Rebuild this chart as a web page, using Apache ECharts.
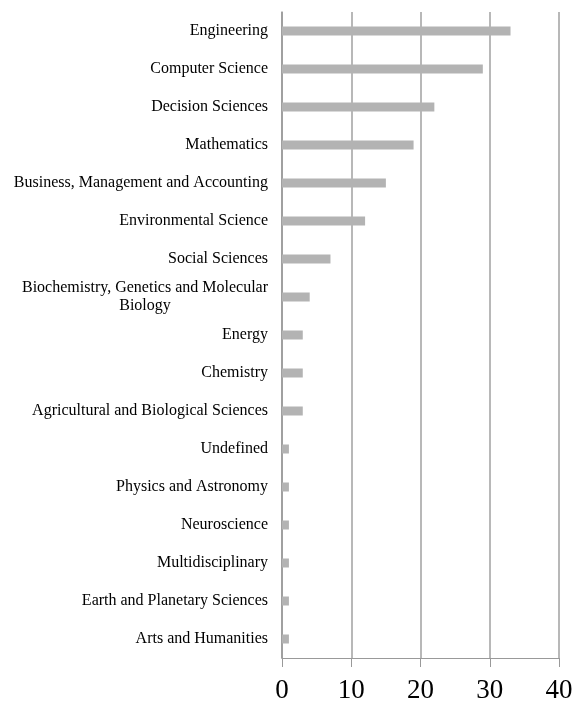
<!DOCTYPE html>
<html>
<head>
<meta charset="utf-8">
<script src="https://cdn.jsdelivr.net/npm/echarts@6/dist/echarts.min.js"></script>
<style>html,body{margin:0;padding:0;background:#fff}#c{width:579px;height:704px}</style>
</head>
<body>
<div id="c"></div>
<script>
const categories = [
  "Engineering",
  "Computer Science",
  "Decision Sciences",
  "Mathematics",
  "Business, Management and Accounting",
  "Environmental Science",
  "Social Sciences",
  "Biochemistry, Genetics and Molecular\nBiology",
  "Energy",
  "Chemistry",
  "Agricultural and Biological Sciences",
  "Undefined",
  "Physics and Astronomy",
  "Neuroscience",
  "Multidisciplinary",
  "Earth and Planetary Sciences",
  "Arts and Humanities"
];
const values = [33, 29, 22, 19, 15, 12, 7, 4, 3, 3, 3, 1, 1, 1, 1, 1, 1];
const xTicks = [0, 10, 20, 30, 40];

const serif = 'Liberation Serif, Times New Roman, serif';
const chart = echarts.init(document.getElementById('c'), null, {renderer: 'canvas'});
chart.setOption({
  backgroundColor: '#ffffff',
  animation: false,
  grid: {left: 282, right: 20, top: 12, bottom: 43, containLabel: false},
  xAxis: {
    type: 'value',
    min: xTicks[0],
    max: xTicks[xTicks.length - 1],
    interval: 10,
    axisLine: {show: true, lineStyle: {color: '#999999', width: 1}},
    axisTick: {show: true, length: 9, lineStyle: {color: '#999999', width: 1}},
    splitLine: {show: true, lineStyle: {color: '#a0a0a0', width: 1.5}},
    axisLabel: {
      fontFamily: serif,
      fontSize: 27,
      color: '#000',
      margin: 19
    }
  },
  yAxis: {
    type: 'category',
    data: categories,
    inverse: true,
    axisLine: {show: true, lineStyle: {color: '#999999', width: 1.5}},
    axisTick: {show: false},
    splitLine: {show: false},
    axisLabel: {
      fontFamily: serif,
      fontSize: 16,
      color: '#000',
      margin: 14,
      lineHeight: 18,
      formatter: function (v) {
        if (v.indexOf('\n') >= 0) {
          const parts = v.split('\n');
          return '{a|' + parts[0] + '}\n{b|' + parts[1] + '}';
        }
        return v;
      },
      rich: {
        a: {fontFamily: serif, fontSize: 16, color: '#000', lineHeight: 18, align: 'right'},
        b: {fontFamily: serif, fontSize: 16, color: '#000', lineHeight: 18, align: 'center'}
      }
    }
  },
  series: [{
    type: 'bar',
    data: values,
    barWidth: 9,
    itemStyle: {color: '#b3b3b3'},
    silent: true
  }]
});
</script>
</body>
</html>
